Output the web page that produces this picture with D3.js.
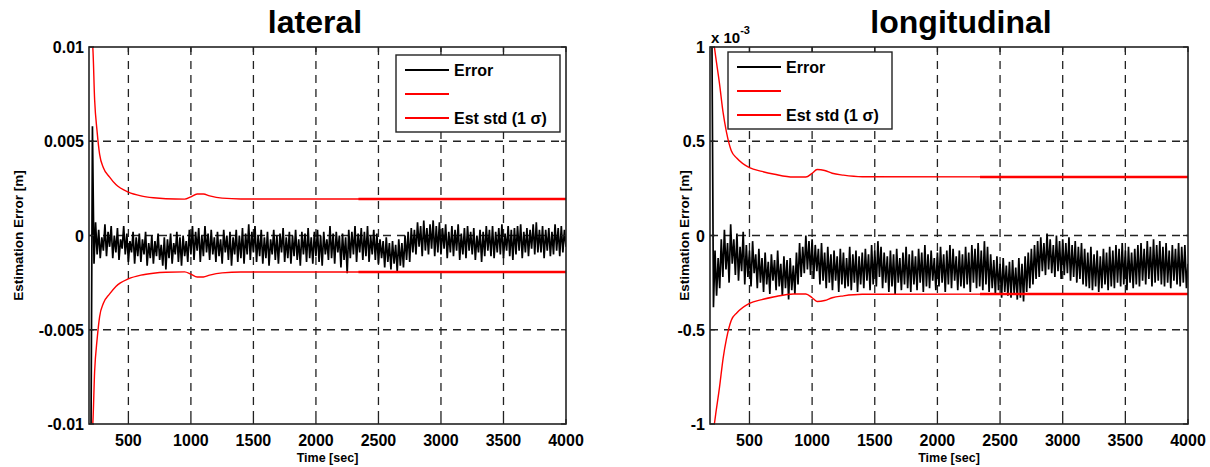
<!DOCTYPE html>
<html>
<head>
<meta charset="utf-8">
<script src="https://cdn.jsdelivr.net/npm/d3@7"></script>
<style>
  body { margin: 0; background: #fff; }
  svg text { font-family: "Liberation Sans", Arial, sans-serif; font-weight: bold; fill: #000; }
</style>
</head>
<body>
<div id="chart"></div>
<script>
// Sampling of the error signal (sec)
const sampleStart = 200;
const sampleStep = 12.5;

// Lateral estimation error, mm (one value per sample, 16 per row = 200 s)
const latErrorMm = [
  -12, 5.8, -1.5, 0.7, -1.0, 0.3, -1.2, -0.1, -0.8, 0.6, -1.1, 0.2, -0.6, 0.5, -1.2, 0.0,
  -0.9, 0.4, -1.3, -0.2, -0.7, 0.5, -1.0, 0.1, -1.4, -0.3, -0.9, 0.2, -1.5, -0.1, -1.1, 0.1,
  -1.4, -0.2, -1.0, 0.2, -1.6, -0.4, -1.2, 0.0, -1.5, -0.3, -1.1, 0.1, -1.3, -0.5, -1.6, -0.1,
  -1.8, -0.2, -1.2, 0.1, -1.5, -0.4, -1.0, 0.2, -1.4, -0.1, -1.6, 0.0, -1.1, -0.3, -1.4, 0.3,
  -1.0, 0.5, -1.3, 0.2, -0.8, 0.4, -1.4, 0.0, -1.1, 0.5, -0.9, 0.1, -1.3, 0.3, -1.0, -0.1,
  -1.4, 0.2, -1.1, -0.2, -1.5, 0.3, -0.9, 0.0, -1.3, 0.2, -1.6, -0.1, -1.0, 0.3, -1.4, 0.0,
  -1.2, 0.4, -1.5, 0.1, -1.0, 0.6, -1.3, 0.2, -0.9, 0.5, -1.4, 0.0, -1.1, 0.3, -1.5, -0.1,
  -1.2, 0.2, -1.6, -0.2, -1.0, 0.3, -1.3, 0.0, -1.5, 0.1, -0.9, 0.4, -1.4, -0.1, -1.2, 0.2,
  -1.5, 0.0, -1.1, 0.3, -1.3, -0.2, -1.6, 0.2, -1.0, 0.1, -1.4, 0.4, -1.2, -0.1, -1.5, 0.2,
  -1.1, 0.3, -1.4, 0.0, -1.6, 0.2, -1.0, -0.2, -1.3, 0.5, -1.2, 0.1, -1.5, 0.2, -0.9, 0.0,
  -1.7, 0.1, -1.3, -0.1, -2.0, 0.3, -1.2, 0.2, -1.0, 0.5, -1.4, 0.1, -0.9, 0.4, -1.3, 0.2,
  -1.1, 0.5, -1.4, 0.0, -1.0, 0.3, -1.3, 0.1, -1.5, -0.2, -1.2, -0.3, -1.7, -0.1, -1.4, -0.4,
  -1.8, -0.3, -1.5, -0.5, -1.9, -0.2, -1.6, -0.4, -1.7, 0.0, -1.3, 0.2, -1.4, 0.4, -0.9, 0.3,
  -1.0, 0.7, -0.6, 0.5, -1.1, 0.8, -0.8, 0.4, -1.0, 0.6, -0.7, 0.8, -1.1, 0.5, -0.9, 0.7,
  -1.0, 0.4, -0.7, 0.6, -1.2, 0.2, -0.9, 0.5, -1.1, 0.3, -0.8, 0.6, -1.3, 0.1, -1.0, 0.4,
  -1.2, 0.5, -0.8, 0.2, -1.0, 0.4, -1.3, 0.0, -0.9, 0.3, -1.4, 0.2, -1.1, 0.5, -0.8, 0.3,
  -1.1, 0.5, -1.2, 0.2, -0.9, 0.4, -1.0, 0.6, -1.2, 0.1, -0.8, 0.5, -1.1, 0.3, -1.3, 0.4,
  -1.0, 0.5, -0.8, 0.6, -1.2, 0.2, -0.9, 0.4, -1.1, 0.3, -0.7, 0.6, -1.0, 0.7, -0.9, 0.3,
  -0.9, 0.5, -1.2, 0.3, -0.8, 0.4, -1.1, 0.2, -1.0, 0.6, -0.8, 0.4, -1.1, 0.5, -0.9, 0.3,
  -0.6
];

// Longitudinal estimation error, x 10^-3 m
const lonErrorE3 = [
  1.1, -0.38, -0.08, -0.32, -0.12, -0.28, -0.02, -0.22, 0.03, -0.18, -0.04, -0.25, 0.06, -0.15, -0.02, -0.21,
  0.01, -0.24, -0.06, -0.19, 0.02, -0.26, -0.05, -0.22, -0.08, -0.27, -0.03, -0.20, -0.10, -0.28, -0.07, -0.25,
  -0.12, -0.30, -0.09, -0.26, -0.14, -0.31, -0.10, -0.24, -0.13, -0.29, -0.08, -0.27, -0.15, -0.32, -0.11, -0.28,
  -0.13, -0.34, -0.12, -0.29, -0.16, -0.31, -0.09, -0.26, -0.04, -0.22, -0.06, -0.20, 0.0, -0.18, -0.03, -0.21,
  -0.02, -0.23, -0.05, -0.19, -0.07, -0.26, -0.04, -0.24, -0.09, -0.28, -0.06, -0.25, -0.10, -0.29, -0.08, -0.24,
  -0.11, -0.30, -0.07, -0.26, -0.09, -0.28, -0.12, -0.27, -0.06, -0.29, -0.10, -0.25, -0.08, -0.30, -0.11, -0.26,
  -0.09, -0.28, -0.07, -0.24, -0.10, -0.29, -0.05, -0.26, -0.08, -0.27, -0.03, -0.22, -0.06, -0.28, -0.09, -0.25,
  -0.11, -0.30, -0.08, -0.27, -0.10, -0.31, -0.07, -0.25, -0.12, -0.29, -0.09, -0.26, -0.06, -0.28, -0.10, -0.30,
  -0.08, -0.26, -0.11, -0.29, -0.07, -0.25, -0.09, -0.30, -0.05, -0.27, -0.10, -0.28, -0.08, -0.24, -0.12, -0.29,
  -0.09, -0.27, -0.06, -0.25, -0.10, -0.30, -0.08, -0.26, -0.05, -0.28, -0.07, -0.24, -0.11, -0.29, -0.08, -0.27,
  -0.10, -0.28, -0.06, -0.26, -0.09, -0.30, -0.05, -0.25, -0.07, -0.28, -0.04, -0.27, -0.08, -0.29, -0.03, -0.26,
  -0.06, -0.30, -0.10, -0.28, -0.13, -0.31, -0.11, -0.29, -0.15, -0.33, -0.12, -0.30, -0.16, -0.32, -0.14, -0.33,
  -0.13, -0.31, -0.17, -0.34, -0.12, -0.33, -0.15, -0.35, -0.11, -0.30, -0.09, -0.28, -0.07, -0.26, -0.05, -0.23,
  -0.03, -0.22, -0.01, -0.19, -0.04, -0.21, 0.01, -0.18, -0.02, -0.20, -0.05, -0.22, 0.0, -0.19, -0.03, -0.23,
  -0.02, -0.21, -0.04, -0.20, -0.01, -0.24, -0.05, -0.22, -0.03, -0.25, -0.06, -0.23, -0.04, -0.26, -0.07, -0.27,
  -0.09, -0.28, -0.06, -0.29, -0.10, -0.27, -0.08, -0.30, -0.11, -0.28, -0.07, -0.26, -0.09, -0.29, -0.06, -0.27,
  -0.08, -0.28, -0.05, -0.25, -0.07, -0.27, -0.04, -0.26, -0.08, -0.29, -0.06, -0.25, -0.09, -0.28, -0.07, -0.26,
  -0.05, -0.27, -0.04, -0.24, -0.07, -0.26, -0.03, -0.23, -0.06, -0.27, -0.02, -0.25, -0.05, -0.24, -0.03, -0.26,
  -0.06, -0.27, -0.04, -0.25, -0.08, -0.28, -0.05, -0.24, -0.07, -0.26, -0.04, -0.27, -0.06, -0.25, -0.05, -0.28,
  -0.15
];

// Estimated std (1 sigma) envelopes
const latStdTime = [200, 215, 230, 250, 270, 300, 350, 400, 500, 600, 700, 800, 950, 1000, 1050, 1100, 1150, 1250, 1400, 4000];
const latStdMm   = [10.5, 10, 7.2, 5.5, 4.3, 3.6, 3.1, 2.7, 2.3, 2.1, 2.0, 1.95, 1.93, 2.05, 2.2, 2.2, 2.1, 1.98, 1.94, 1.94];
const lonStdTime = [200, 230, 260, 290, 316, 355, 400, 500, 600, 700, 850, 950, 1000, 1040, 1100, 1160, 1250, 1400, 4000];
const lonStdE3   = [1.1, 0.95, 0.81, 0.65, 0.55, 0.45, 0.41, 0.36, 0.34, 0.325, 0.31, 0.31, 0.33, 0.35, 0.345, 0.33, 0.32, 0.312, 0.31];
// second std trace overlaps from here on (drawn heavier in the original)
const overlapStart = 2340;

// Axis ticks
const xTicks = [500, 1000, 1500, 2000, 2500, 3000, 3500, 4000];
const latYTicks = [-0.01, -0.005, 0, 0.005, 0.01];
const latYLabels = ['-0.01', '-0.005', '0', '0.005', '0.01'];
const lonYTicks = [-1, -0.5, 0, 0.5, 1];
const lonYLabels = ['-1', '-0.5', '0', '0.5', '1'];
const legendLabels = ['Error', '', 'Est std (1 σ)'];

const W = 1210, H = 467;
const svg = d3.select('#chart').append('svg').attr('width', W).attr('height', H);

function drawPanel(cfg) {
    const x = d3.scaleLinear().domain([185, 4000]).range([cfg.left, cfg.right]);
    const y = d3.scaleLinear().domain(cfg.yDomain).range([cfg.bottom, cfg.top]);
    const g = svg.append('g');

    const clipId = 'clip-' + cfg.id;
    svg.append('clipPath').attr('id', clipId)
        .append('rect')
        .attr('x', cfg.left).attr('y', cfg.top)
        .attr('width', cfg.right - cfg.left).attr('height', cfg.bottom - cfg.top);

    // grid
    g.selectAll('.vgrid')
        .data(xTicks.filter(t => t < 4000))
        .enter().append('line')
        .attr('x1', d => x(d)).attr('x2', d => x(d))
        .attr('y1', cfg.top).attr('y2', cfg.bottom)
        .style('stroke', '#222').style('stroke-width', 1.3).style('stroke-dasharray', '8,6');
    g.selectAll('.hgrid')
        .data(cfg.yTicks.slice(1, -1))
        .enter().append('line')
        .attr('x1', cfg.left).attr('x2', cfg.right)
        .attr('y1', d => y(d)).attr('y2', d => y(d))
        .style('stroke', '#222').style('stroke-width', 1.3).style('stroke-dasharray', '8,6');

    // data
    const plot = g.append('g').attr('clip-path', `url(#${clipId})`);
    const errPts = cfg.error.map((v, i) => [sampleStart + i * sampleStep, v * cfg.unit]);
    const line = d3.line().x(d => x(d[0])).y(d => y(d[1]));
    const smooth = d3.line().x(d => x(d[0])).y(d => y(d[1])).curve(d3.curveMonotoneX);

    plot.append('path')
        .attr('d', line(errPts))
        .style('fill', 'none').style('stroke', '#000').style('stroke-width', 1.7);

    const stdPts = cfg.stdTime.map((t, i) => [t, cfg.std[i] * cfg.unit]);
    [1, -1].forEach(sign => {
        const pts = stdPts.map(p => [p[0], sign * p[1]]);
        plot.append('path')
            .attr('d', smooth(pts))
            .style('fill', 'none').style('stroke', '#ff0000').style('stroke-width', 1.4);
        const last = cfg.std[cfg.std.length - 1] * cfg.unit * sign;
        plot.append('path')
            .attr('d', line([[overlapStart, last], [4000, last]]))
            .style('fill', 'none').style('stroke', '#ff0000').style('stroke-width', 2.6);
    });

    // box
    g.append('rect')
        .attr('x', cfg.left).attr('y', cfg.top)
        .attr('width', cfg.right - cfg.left).attr('height', cfg.bottom - cfg.top)
        .style('fill', 'none').style('stroke', '#222').style('stroke-width', 1.6);

    // inner ticks on all four sides
    xTicks.forEach(t => {
        g.append('line').attr('x1', x(t)).attr('x2', x(t)).attr('y1', cfg.bottom).attr('y2', cfg.bottom - 5)
            .style('stroke', '#222').style('stroke-width', 1.3);
        g.append('line').attr('x1', x(t)).attr('x2', x(t)).attr('y1', cfg.top).attr('y2', cfg.top + 5)
            .style('stroke', '#222').style('stroke-width', 1.3);
    });
    cfg.yTicks.forEach(t => {
        g.append('line').attr('x1', cfg.left).attr('x2', cfg.left + 5).attr('y1', y(t)).attr('y2', y(t))
            .style('stroke', '#222').style('stroke-width', 1.3);
        g.append('line').attr('x1', cfg.right).attr('x2', cfg.right - 5).attr('y1', y(t)).attr('y2', y(t))
            .style('stroke', '#222').style('stroke-width', 1.3);
    });

    // tick labels
    g.selectAll('.xlab')
        .data(xTicks)
        .enter().append('text')
        .attr('x', d => x(d)).attr('y', cfg.bottom + 22)
        .attr('text-anchor', 'middle')
        .style('font-size', '16px')
        .text(d => d);
    g.selectAll('.ylab')
        .data(cfg.yTicks)
        .enter().append('text')
        .attr('x', cfg.left - 5).attr('y', d => y(d) + 6)
        .attr('text-anchor', 'end')
        .style('font-size', '16px')
        .text((d, i) => cfg.yLabels[i]);

    // axis titles
    g.append('text')
        .attr('x', (cfg.left + cfg.right) / 2).attr('y', cfg.bottom + 38)
        .attr('text-anchor', 'middle')
        .style('font-size', '12.5px')
        .text('Time [sec]');
    g.append('text')
        .attr('transform', `translate(${cfg.yTitleX}, ${(cfg.top + cfg.bottom) / 2}) rotate(-90)`)
        .attr('text-anchor', 'middle')
        .style('font-size', '13.5px')
        .text('Estimation Error [m]');

    // title
    g.append('text')
        .attr('x', cfg.titleX).attr('y', 33)
        .attr('text-anchor', 'middle')
        .style('font-size', '32px')
        .text(cfg.title);

    // legend
    const lg = g.append('g').attr('transform', `translate(${cfg.legend[0]}, ${cfg.legend[1]})`);
    lg.append('rect')
        .attr('width', 164).attr('height', 77)
        .style('fill', '#fff').style('stroke', '#222').style('stroke-width', 1.4);
    const colors = ['#000', '#ff0000', '#ff0000'];
    legendLabels.forEach((lab, i) => {
        const yy = 15 + i * 24;
        lg.append('line').attr('x1', 9).attr('x2', 53).attr('y1', yy).attr('y2', yy)
            .style('stroke', colors[i]).style('stroke-width', 2.2);
        lg.append('text').attr('x', 58).attr('y', yy + 6)
            .style('font-size', '16px')
            .text(lab);
    });
}

drawPanel({
    id: 'lat', title: 'lateral', titleX: 315,
    left: 89, right: 566, top: 47, bottom: 424,
    yDomain: [-0.01, 0.01], yTicks: latYTicks, yLabels: latYLabels,
    error: latErrorMm, stdTime: latStdTime, std: latStdMm, unit: 0.001,
    yTitleX: 23, legend: [396, 55]
});

drawPanel({
    id: 'lon', title: 'longitudinal', titleX: 961,
    left: 710, right: 1188, top: 47, bottom: 424,
    yDomain: [-1, 1], yTicks: lonYTicks, yLabels: lonYLabels,
    error: lonErrorE3, stdTime: lonStdTime, std: lonStdE3, unit: 1,
    yTitleX: 689, legend: [728, 52]
});

// exponent label on the longitudinal axis
const expo = svg.append('text').attr('x', 711).attr('y', 43).style('font-size', '15px');
expo.append('tspan').text('x 10');
expo.append('tspan').attr('dy', -9).style('font-size', '11px').text('-3');
</script>
</body>
</html>
